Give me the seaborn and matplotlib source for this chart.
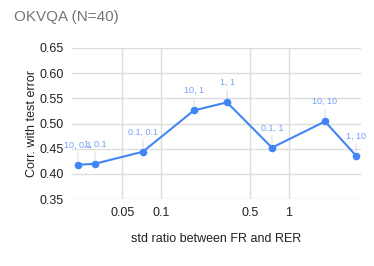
import matplotlib
matplotlib.use("Agg")
import matplotlib.pyplot as plt
import matplotlib.ticker as mticker
import seaborn as sns
import pandas as pd

# data
std_ratio = [0.0225, 0.0305, 0.0723, 0.181, 0.328, 0.736, 1.91, 3.34]
corr = [0.418, 0.420, 0.444, 0.526, 0.542, 0.452, 0.504, 0.436]
point_labels = ["10, 0.1", "1, 0.1", "0.1, 0.1", "10, 1", "1, 1", "0.1, 1", "10, 10", "1, 10"]
x_ticks = [0.05, 0.1, 0.5, 1]
x_tick_labels = ["0.05", "0.1", "0.5", "1"]
y_ticks = [0.35, 0.40, 0.45, 0.50, 0.55, 0.60, 0.65]

df = pd.DataFrame({"ratio": std_ratio, "corr": corr})

sns.set_style("white")
plt.rcParams["font.family"] = ["Liberation Sans", "DejaVu Sans"]

fig = plt.figure(figsize=(3.74, 2.66), dpi=100)
ax = fig.add_axes([72 / 374, 1 - 199 / 266, (361 - 72) / 374, (199 - 48) / 266])

blue = "#4285F4"
sns.lineplot(data=df, x="ratio", y="corr", ax=ax, color=blue, linewidth=1.5,
             marker="o", markersize=5.5, markeredgewidth=0, sort=False)

ax.set_xscale("log")
ax.set_xlim(0.0202, 3.65)
ax.set_ylim(0.35, 0.65)
ax.xaxis.set_major_locator(mticker.FixedLocator(x_ticks))
ax.xaxis.set_major_formatter(mticker.FixedFormatter(x_tick_labels))
ax.xaxis.set_minor_locator(mticker.NullLocator())
ax.set_yticks(y_ticks)
ax.set_yticklabels([f"{v:.2f}" for v in y_ticks])
ax.grid(True, color="#dddddd", linewidth=1)
ax.set_axisbelow(True)
for s in ax.spines.values():
    s.set_visible(False)
ax.tick_params(length=0, labelsize=9, colors="#222222", pad=6)

# point labels with small leader lines (the first two overlap in the original too)
for xv, yv, lab in zip(std_ratio, corr, point_labels):
    ax.annotate(lab, (xv, yv), xytext=(0, 11), textcoords="offset points",
                ha="center", va="bottom", fontsize=6.5, color="#6FA3F2",
                arrowprops=dict(arrowstyle="-", color="#dddddd", lw=0.8,
                                shrinkA=0, shrinkB=3))

ax.set_xlabel("std ratio between FR and RER", fontsize=9, color="#222222", labelpad=10)
ax.set_ylabel("Corr. with test error", fontsize=9, color="#222222", labelpad=1)
fig.text(14 / 374, 1 - 17 / 266, "OKVQA (N=40)", fontsize=11, color="#757575",
         va="center", ha="left")

fig.savefig("out.png", dpi=100)
